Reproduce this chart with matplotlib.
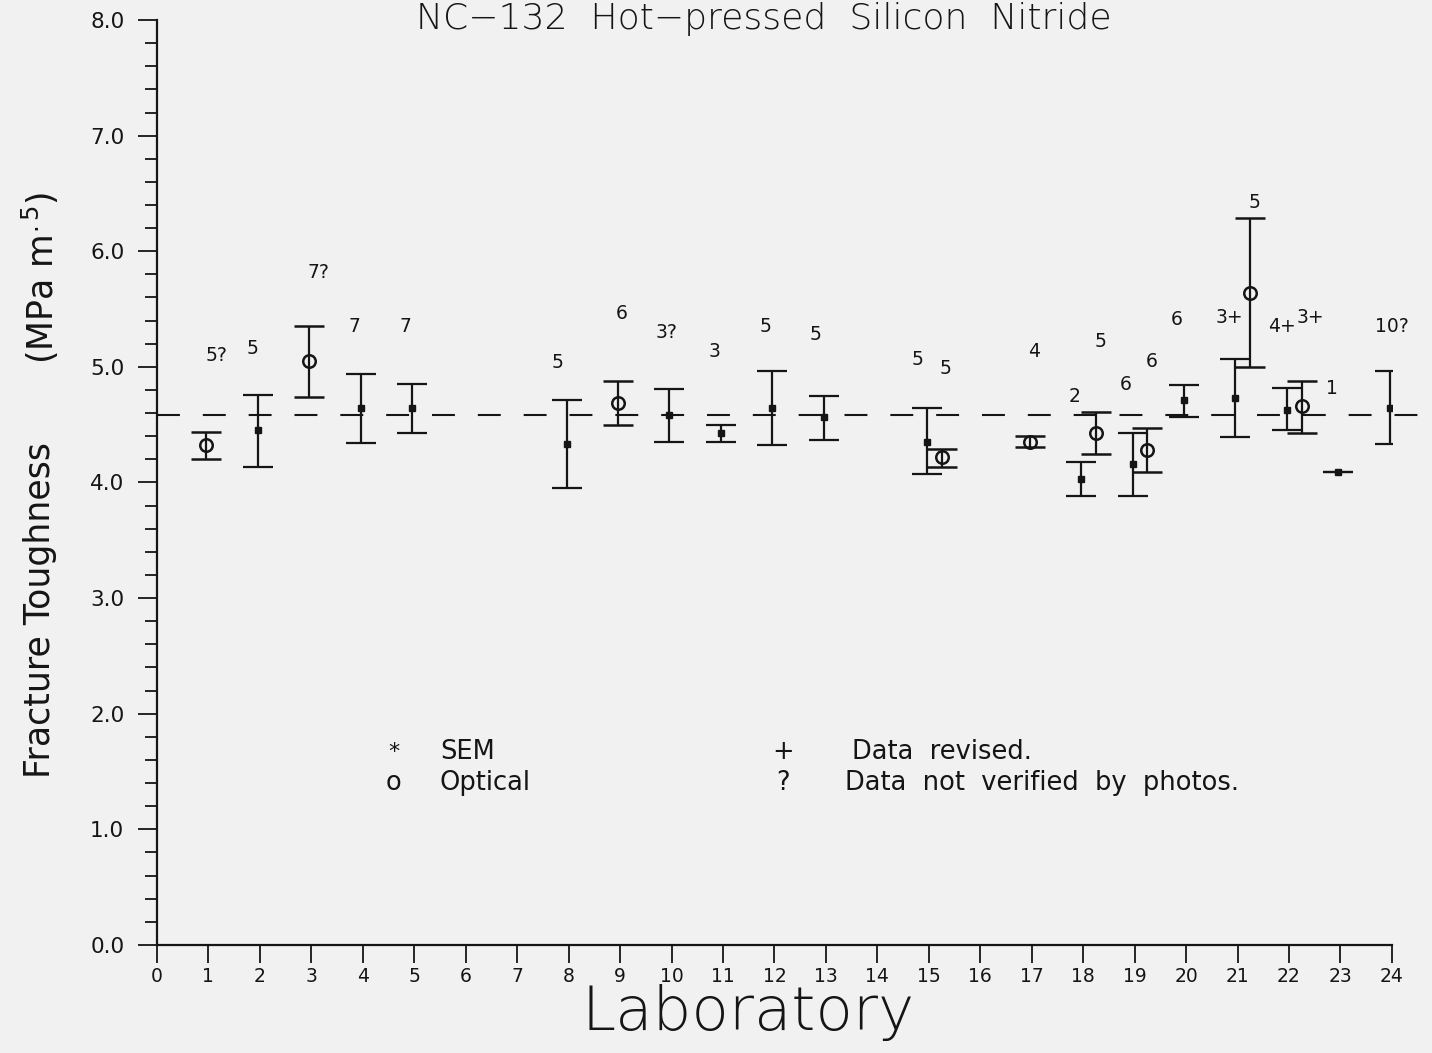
import numpy as np
import matplotlib
matplotlib.use('Agg')
import matplotlib.pyplot as plt
from matplotlib.ticker import MultipleLocator

plt.rcParams['font.family'] = ['DejaVu Sans']
plt.rcParams['mathtext.default'] = 'regular'

# Resultados SEM (laboratorio, media, limite inferior, limite superior)
sem_lab = [2, 4, 5, 8, 10, 11, 12, 13, 15, 18, 19, 20, 21, 22, 23, 24]
sem_mean = [4.45, 4.64, 4.64, 4.33, 4.58, 4.43, 4.64, 4.57, 4.35, 4.03, 4.16, 4.71, 4.73, 4.63, 4.09, 4.64]
sem_lo = [4.13, 4.34, 4.43, 3.95, 4.35, 4.35, 4.32, 4.37, 4.07, 3.88, 3.88, 4.57, 4.39, 4.45, 4.09, 4.33]
sem_hi = [4.76, 4.94, 4.85, 4.71, 4.81, 4.50, 4.96, 4.75, 4.64, 4.18, 4.43, 4.84, 5.07, 4.82, 4.09, 4.96]

# Resultados opticos
opt_lab = [1, 3, 9, 15, 17, 18, 19, 21, 22]
opt_mean = [4.32, 5.05, 4.69, 4.22, 4.35, 4.43, 4.28, 5.64, 4.66]
opt_lo = [4.20, 4.74, 4.50, 4.13, 4.31, 4.25, 4.09, 5.00, 4.43]
opt_hi = [4.44, 5.35, 4.88, 4.29, 4.40, 4.61, 4.47, 6.29, 4.88]

grand_mean = 4.58

# Numero de corpos de prova (anotacoes)
ann_text = ['5?', '5', '7?', '7', '7', '5', '6', '3?', '3', '5', '5', '5', '5',
            '4', '2', '5', '6', '6', '6', '3+', '5', '4+', '3+', '1', '10?']
ann_x = [1.16, 1.85, 3.13, 3.83, 4.82, 7.79, 9.03, 9.91, 10.83, 11.82, 12.79, 14.79, 15.32,
         17.04, 17.84, 18.34, 18.82, 19.33, 19.82, 20.85, 21.32, 21.86, 22.41, 22.84, 23.99]
ann_y = [5.10, 5.16, 5.82, 5.35, 5.35, 5.04, 5.46, 5.30, 5.13, 5.35, 5.28, 5.06, 4.99,
         5.13, 4.74, 5.22, 4.85, 5.05, 5.41, 5.43, 6.42, 5.35, 5.43, 4.81, 5.35]

ink = '#151515'
bg = '#f1f1f1'

fig = plt.figure(figsize=(14.32, 10.53), dpi=100, facecolor=bg)
ax = fig.add_axes([0.1096, 0.1026, 0.8624, 0.8784])
ax.set_facecolor(bg)

# Linha da media geral
ax.plot([0, 24.8], [grand_mean, grand_mean], color=ink, lw=1.5,
        linestyle=(0, (11, 11)), clip_on=False, zorder=1)

# deslocamento quando o laboratorio tem os dois metodos
paired = set(sem_lab) & set(opt_lab)
xs = np.array(sem_lab, dtype=float) - 0.04
xo = np.array([l + 0.25 if l in paired else l - 0.04 for l in opt_lab])

sm = np.array(sem_mean)
ax.errorbar(xs, sm, yerr=[sm - np.array(sem_lo), np.array(sem_hi) - sm],
            fmt='s', ms=4, color=ink, ecolor=ink, elinewidth=1.6,
            capsize=11, capthick=1.6, zorder=3)
om = np.array(opt_mean)
ax.errorbar(xo, om, yerr=[om - np.array(opt_lo), np.array(opt_hi) - om],
            fmt='o', ms=9, mfc='none', mec=ink, mew=1.8, color=ink, ecolor=ink,
            elinewidth=1.6, capsize=11, capthick=1.6, zorder=3)

for t, x, y in zip(ann_text, ann_x, ann_y):
    ax.text(x, y, t, ha='center', va='center', fontsize=13.5, color=ink)

# Legenda em texto
fs = 18.5
ax.text(4.6, 1.67, '*', ha='center', va='center', fontsize=16, color=ink)
ax.text(5.5, 1.67, 'SEM', ha='left', va='center', fontsize=fs, color=ink)
ax.text(4.6, 1.40, 'o', ha='center', va='center', fontsize=fs, color=ink)
ax.text(5.5, 1.40, 'Optical', ha='left', va='center', fontsize=fs, color=ink)
ax.text(12.16, 1.67, '+', ha='center', va='center', fontsize=fs, color=ink)
ax.text(13.5, 1.67, 'Data  revised.', ha='left', va='center', fontsize=fs, color=ink)
ax.text(12.16, 1.40, '?', ha='center', va='center', fontsize=fs, color=ink)
ax.text(13.37, 1.40, 'Data  not  verified  by  photos.', ha='left', va='center', fontsize=fs, color=ink)

ax.set_xlim(0, 24)
ax.set_ylim(0, 8)
ax.xaxis.set_major_locator(MultipleLocator(1))
ax.yaxis.set_major_locator(MultipleLocator(1))
ax.yaxis.set_minor_locator(MultipleLocator(0.2))
ax.set_yticklabels([f'{v:.1f}' for v in ax.get_yticks()])
ax.tick_params(axis='x', direction='out', length=13, width=1.3, colors=ink, labelsize=13.5, pad=3)
ax.tick_params(axis='y', which='major', direction='out', length=13.5, width=1.3, colors=ink,
               labelsize=15.5, pad=10)
ax.tick_params(axis='y', which='minor', direction='out', length=8.5, width=1.3, colors=ink)
for s in ['top', 'right']:
    ax.spines[s].set_visible(False)
for s in ['left', 'bottom']:
    ax.spines[s].set_linewidth(1.6)
    ax.spines[s].set_color(ink)

# Rotulos dos eixos e titulo
fig.text(748 / 1432, 1 - 1030 / 1053, 'Laboratory', ha='center', va='baseline',
         fontsize=44, fontweight=200, color=ink)
fig.text(40 / 1432, 1 - 610 / 1053, 'Fracture Toughness', rotation=90,
         ha='center', va='center', fontsize=25, fontweight=300, color=ink)
fig.text(40 / 1432, 1 - 278 / 1053, '(MPa m$^{.5}$)', rotation=90,
         ha='center', va='center', fontsize=25, fontweight=300, color=ink)
fig.text(764 / 1432, 1 - 29 / 1053, 'NC\u2212132  Hot\u2212pressed  Silicon  Nitride',
         ha='center', va='baseline', fontsize=26, fontweight=200, color=ink)

fig.savefig('out.png', dpi=100, facecolor=bg)
